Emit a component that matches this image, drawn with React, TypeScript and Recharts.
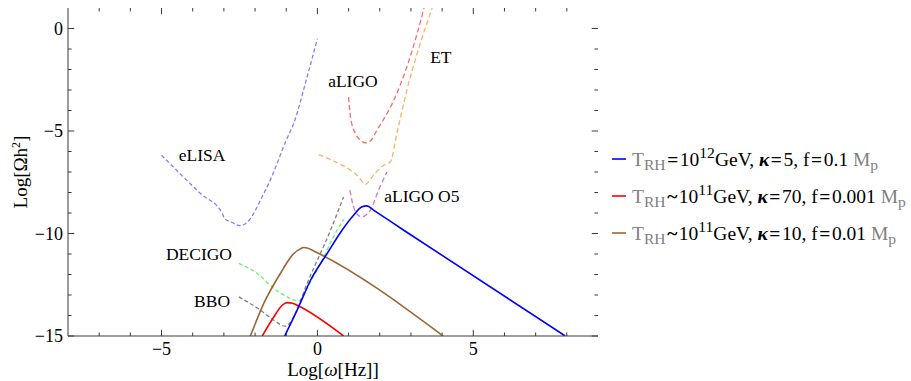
import { LineChart, Line, XAxis, YAxis, ReferenceDot, ReferenceLine, Legend, Label } from 'recharts';

const FONT = '"Liberation Serif", "Times New Roman", serif';
const FRAME = '#3a3a3a';

// frame ticks (every 1 unit, labelled every 5)
const xTicks = [-7, -6, -5, -4, -3, -2, -1, 0, 1, 2, 3, 4, 5, 6, 7, 8];
const yTicks = [-15, -14, -13, -12, -11, -10, -9, -8, -7, -6, -5, -4, -3, -2, -1, 0];
const X_MIN = -8;
const X_MAX = 9;
const Y_MIN = -15;
const Y_MAX = 1;

// detector sensitivity curves (dashed)
const elisaX = [-5.0, -4.3, -3.75, -3.05, -2.98, -2.75, -2.47, -2.15, -1.83, -1.5, -1.0, -0.76, -0.33, 0.0];
const elisaY = [-6.18, -7.24, -8.05, -9.02, -9.27, -9.45, -9.62, -9.27, -8.38, -7.35, -5.45, -4.63, -2.36, -0.49];

const aligoX = [1.0, 1.06, 1.22, 1.38, 1.54, 1.72, 1.91, 2.45, 2.87, 3.2, 3.42];
const aligoY = [-3.34, -4.31, -5.12, -5.45, -5.58, -5.45, -4.96, -3.5, -1.87, -0.24, 1.0];

const etX = [0.04, 0.5, 1.06, 1.3, 1.54, 1.8, 2.13, 2.34, 2.55, 2.87, 3.2, 3.68];
const etY = [-6.15, -6.45, -6.91, -7.2, -7.6, -7.15, -6.67, -6.5, -5.12, -3.0, -1.22, 1.0];

const o5X = [1.04, 1.16, 1.3, 1.43, 1.56, 1.7, 1.96, 2.23];
const o5Y = [-7.89, -8.7, -9.1, -9.19, -9.1, -8.86, -7.89, -7.0];

const decigoX = [-2.52, -1.93, -1.4, -0.97, -0.75, -0.6, -0.45, -0.33, 0.1, 0.63, 0.85];
const decigoY = [-11.46, -11.95, -12.68, -13.09, -13.25, -13.29, -13.05, -12.68, -11.46, -9.84, -9.3];

const bboX = [-2.52, -1.83, -1.4, -1.03, -0.9, -0.71, -0.33, 0.42, 0.84];
const bboY = [-13.09, -13.74, -14.23, -14.52, -14.4, -13.9, -12.44, -9.84, -8.21];

// model spectra (solid)
const blueX = [-1.05, -0.65, -0.22, 0.31, 0.79, 1.16, 1.43, 1.59, 1.8, 2.77, 7.95];
const blueY = [-15.0, -13.74, -12.28, -10.98, -9.84, -9.11, -8.7, -8.65, -8.86, -9.84, -15.0];

const redX = [-1.77, -1.4, -1.13, -0.97, -0.8, -0.65, 0.84];
const redY = [-15.0, -14.07, -13.5, -13.37, -13.4, -13.5, -15.0];

const brownX = [-2.15, -1.72, -1.19, -0.76, -0.55, -0.44, -0.3, -0.12, 4.03];
const brownY = [-15.0, -13.41, -11.95, -10.98, -10.75, -10.68, -10.72, -10.85, -15.0];

// legend text pieces
const legendColors = ['#0000ff', '#ff0000', '#996633'];
const legendRel = ['=', '~', '~'];
const legendExp = ['12', '11', '11'];
const legendKappa = ['5', '70', '10'];
const legendF = ['0.1', '0.001', '0.01'];

const pts = (xs: number[], ys: number[]) => xs.map((x, i) => ({ x, y: ys[i] }));

const fmt = (v: number) => (v < 0 ? '\u2212' + Math.abs(v) : String(v));
const isMajor = (v: number) => v % 5 === 0;
// tick lengths in data units (about 6px major / 3.5px minor)
const tickLenY = (v: number) => (isMajor(v) ? 0.3 : 0.17);
const tickLenX = (v: number) => (isMajor(v) ? 0.2 : 0.115);

const renderBottomTick = (props: any) => {
  const v = props.payload.value;
  if (!isMajor(v)) return <g />;
  return (
    <text x={props.x} y={Number(props.y) + 19} textAnchor="middle" fontFamily={FONT} fontSize={18} fill="#000">
      {fmt(v)}
    </text>
  );
};

const renderLeftTick = (props: any) => {
  const v = props.payload.value;
  if (!isMajor(v)) return <g />;
  return (
    <text x={Number(props.x) - 5} y={props.y} dy="0.35em" textAnchor="end" fontFamily={FONT} fontSize={18} fill="#000">
      {fmt(v)}
    </text>
  );
};

const YTitle = (props: any) => {
  const vb = props.viewBox;
  const cx = vb.x + 12;
  const cy = vb.y + vb.height / 2;
  return (
    <text x={cx} y={cy} transform={`rotate(-90 ${cx} ${cy})`} textAnchor="middle" dy="0.35em"
      fontFamily={FONT} fontSize={19} fill="#000">
      Log[Ωh<tspan dy="-7" fontSize={12}>2</tspan><tspan dy="7">]</tspan>
    </text>
  );
};

const XTitle = (props: any) => {
  const vb = props.viewBox;
  return (
    <text x={vb.x + vb.width / 2} y={vb.y + 40} textAnchor="middle" fontFamily={FONT} fontSize={19} fill="#000">
      Log[<tspan fontStyle="italic">ω</tspan>[Hz]]
    </text>
  );
};

const subStyle = { fontSize: '0.8em', verticalAlign: '-0.25em' };
const supStyle = { fontSize: '0.8em', verticalAlign: '0.5em' };
const relStyle = { fontWeight: 700, margin: '0 0.08em' };

const LegendBox = () => (
  <div style={{ fontFamily: FONT, fontSize: 19.5, color: '#000' }}>
    {legendColors.map((c, i) => (
      <div key={c} style={{ display: 'flex', alignItems: 'center', height: 37, whiteSpace: 'nowrap' }}>
        <svg width={14} height={4} style={{ flex: 'none' }}>
          <line x1={0} x2={14} y1={2} y2={2} stroke={c} strokeWidth={1.6} />
        </svg>
        <span style={{ marginLeft: 6, lineHeight: 1 }}>
          <span style={{ color: '#808080' }}>
            T<span style={subStyle}>RH</span>
          </span>
          <span style={relStyle}>{legendRel[i]}</span>10<span style={supStyle}>{legendExp[i]}</span>GeV,{' '}
          <b><i>κ</i></b><span style={relStyle}>=</span>{legendKappa[i]}, f<span style={relStyle}>=</span>
          {legendF[i]}{' '}
          <span style={{ color: '#808080' }}>
            M<span style={subStyle}>p</span>
          </span>
        </span>
      </div>
    ))}
  </div>
);

const curveLabels = [
  { text: 'eLISA', x: -3.7, y: -6.18 },
  { text: 'aLIGO', x: 1.14, y: -2.57 },
  { text: 'ET', x: 3.96, y: -1.38 },
  { text: 'aLIGO O5', x: 3.35, y: -8.18 },
  { text: 'DECIGO', x: -3.8, y: -10.99 },
  { text: 'BBO', x: -3.38, y: -13.3 },
];

const dashed = (xs: number[], ys: number[], color: string, dash: string) => (
  <Line data={pts(xs, ys)} dataKey="y" type="monotone" stroke={color} strokeWidth={1.3}
    strokeDasharray={dash} dot={false} activeDot={false} isAnimationActive={false} />
);

export default function App() {
  return (
    <div style={{ position: 'absolute', left: 0, top: 0, width: 911, height: 381, background: '#fff' }}>
      <LineChart width={911} height={381} margin={{ top: 8, right: 313, left: 8, bottom: 0 }}>
        <XAxis dataKey="x" type="number" domain={[X_MIN, X_MAX]} ticks={xTicks} allowDataOverflow
          height={45} tickSize={0} tickMargin={0} tickLine={false} interval={0}
          axisLine={{ stroke: FRAME }} tick={renderBottomTick}>
          <Label content={<XTitle />} />
        </XAxis>
        <XAxis xAxisId="top" orientation="top" dataKey="x" type="number" domain={[X_MIN, X_MAX]}
          height={0} tickLine={false} tick={false} axisLine={{ stroke: FRAME }} />
        <YAxis type="number" domain={[Y_MIN, Y_MAX]} ticks={yTicks} allowDataOverflow width={60}
          tickSize={0} tickMargin={0} tickLine={false} interval={0}
          axisLine={{ stroke: FRAME }} tick={renderLeftTick}>
          <Label content={<YTitle />} />
        </YAxis>
        <YAxis yAxisId="right" orientation="right" type="number" domain={[Y_MIN, Y_MAX]} width={0}
          tickLine={false} tick={false} axisLine={{ stroke: FRAME }} />

        {/* inward frame ticks on all four sides */}
        {xTicks.map((v) => (
          <ReferenceLine key={'b' + v} segment={[{ x: v, y: Y_MIN }, { x: v, y: Y_MIN + tickLenY(v) }]}
            stroke={FRAME} strokeWidth={1} ifOverflow="visible" />
        ))}
        {xTicks.map((v) => (
          <ReferenceLine key={'t' + v} segment={[{ x: v, y: Y_MAX }, { x: v, y: Y_MAX - tickLenY(v) }]}
            stroke={FRAME} strokeWidth={1} ifOverflow="visible" />
        ))}
        {yTicks.map((v) => (
          <ReferenceLine key={'l' + v} segment={[{ x: X_MIN, y: v }, { x: X_MIN + tickLenX(v), y: v }]}
            stroke={FRAME} strokeWidth={1} ifOverflow="visible" />
        ))}
        {yTicks.map((v) => (
          <ReferenceLine key={'r' + v} segment={[{ x: X_MAX, y: v }, { x: X_MAX - tickLenX(v), y: v }]}
            stroke={FRAME} strokeWidth={1} ifOverflow="visible" />
        ))}

        {dashed(elisaX, elisaY, '#7f7fff', '4 2.5')}
        {dashed(aligoX, aligoY, '#ff6a6a', '5 3')}
        {dashed(etX, etY, '#ffb060', '5 3')}
        {dashed(o5X, o5Y, '#c878d0', '5 3')}
        {dashed(decigoX, decigoY, '#70f070', '4 2.5')}
        {dashed(bboX, bboY, '#808080', '4 2.5')}

        <Line data={pts(brownX, brownY)} dataKey="y" type="monotone" stroke="#996633" strokeWidth={1.6}
          dot={false} activeDot={false} isAnimationActive={false} />
        <Line data={pts(redX, redY)} dataKey="y" type="monotone" stroke="#ff0000" strokeWidth={1.6}
          dot={false} activeDot={false} isAnimationActive={false} />
        <Line data={pts(blueX, blueY)} dataKey="y" type="monotone" stroke="#0000ff" strokeWidth={1.6}
          dot={false} activeDot={false} isAnimationActive={false} />

        {curveLabels.map((l) => (
          <ReferenceDot key={l.text} x={l.x} y={l.y} r={0} stroke="none" fill="none"
            label={{ value: l.text, position: 'center', fill: '#000', fontSize: 17.5, fontFamily: FONT }} />
        ))}

        <Legend layout="horizontal" align="center" verticalAlign="middle" content={<LegendBox />}
          wrapperStyle={{ left: 612, top: 140, width: 299, height: 111 }} />
      </LineChart>
    </div>
  );
}
